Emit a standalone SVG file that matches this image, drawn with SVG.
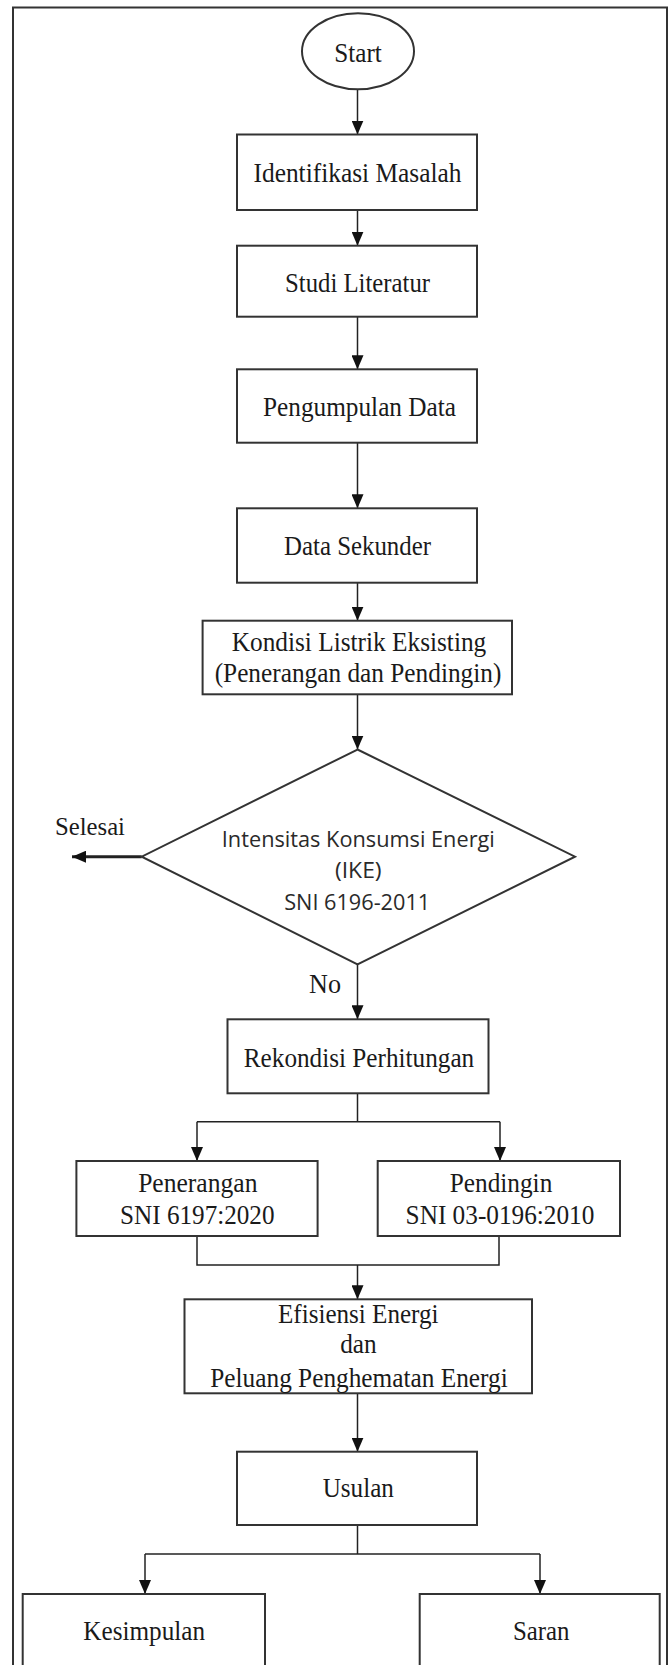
<svg xmlns="http://www.w3.org/2000/svg" width="672" height="1665" viewBox="0 0 672 1665">
<style>
.bg{fill:#ffffff}
.frame{fill:none;stroke:#333;stroke-width:2}
.box{fill:#fff;stroke:#333;stroke-width:2}
.t{font-family:"Liberation Serif","Times New Roman",serif;font-size:28px;fill:#1a1a1a;text-anchor:middle}
.s{font-family:"Open Sans","Liberation Sans",sans-serif;font-size:21px;fill:#2a2a2a;text-anchor:middle}
.c{fill:none;stroke:#222;stroke-width:1.5}
.thick{fill:none;stroke:#222;stroke-width:3}
</style>
<defs>
<marker id="ah" markerUnits="userSpaceOnUse" markerWidth="14" markerHeight="12" refX="14" refY="6" orient="auto">
<path d="M0,0 L14,6 L0,12 z" fill="#111"/>
</marker>
</defs>
<rect class="bg" x="0" y="0" width="672" height="1665"/>
<rect class="frame" x="13" y="7.5" width="654" height="1700"/>

<g id="connectors">
<line class="c" x1="357.5" y1="89.3" x2="357.5" y2="134.5" marker-end="url(#ah)"/>
<line class="c" x1="357.5" y1="210" x2="357.5" y2="245.7" marker-end="url(#ah)"/>
<line class="c" x1="357.5" y1="316.7" x2="357.5" y2="369.3" marker-end="url(#ah)"/>
<line class="c" x1="357.5" y1="442.7" x2="357.5" y2="508.3" marker-end="url(#ah)"/>
<line class="c" x1="357.5" y1="582.7" x2="357.5" y2="620.7" marker-end="url(#ah)"/>
<line class="c" x1="357.5" y1="694.3" x2="357.5" y2="749.5" marker-end="url(#ah)"/>
<line class="thick" x1="141.7" y1="856.7" x2="72" y2="856.7" marker-end="url(#ah)"/>
<line class="c" x1="357.5" y1="964.3" x2="357.5" y2="1019.3" marker-end="url(#ah)"/>
<polyline class="c" points="357.5,1093.3 357.5,1121.7"/>
<polyline class="c" points="197,1121.7 500,1121.7"/>
<line class="c" x1="197" y1="1121.7" x2="197" y2="1161" marker-end="url(#ah)"/>
<line class="c" x1="500" y1="1121.7" x2="500" y2="1161" marker-end="url(#ah)"/>
<polyline class="c" points="197,1236 197,1265 499,1265 499,1236"/>
<line class="c" x1="357.5" y1="1265" x2="357.5" y2="1299.3" marker-end="url(#ah)"/>
<line class="c" x1="357.5" y1="1393.3" x2="357.5" y2="1451.7" marker-end="url(#ah)"/>
<polyline class="c" points="357.5,1525 357.5,1554"/>
<polyline class="c" points="145,1554 540,1554"/>
<line class="c" x1="145" y1="1554" x2="145" y2="1594" marker-end="url(#ah)"/>
<line class="c" x1="540" y1="1554" x2="540" y2="1594" marker-end="url(#ah)"/>
</g>

<g id="start">
<ellipse class="box" cx="358" cy="51.3" rx="56" ry="38"/>
<text class="t" x="358" y="62" textLength="47.5" lengthAdjust="spacingAndGlyphs">Start</text>
</g>
<g id="identifikasi">
<rect class="box" x="237" y="134.5" width="240" height="75.5"/>
<text class="t" x="357.5" y="182" textLength="208" lengthAdjust="spacingAndGlyphs">Identifikasi Masalah</text>
</g>
<g id="studi">
<rect class="box" x="237" y="245.7" width="240" height="71"/>
<text class="t" x="357.5" y="291.5" textLength="145" lengthAdjust="spacingAndGlyphs">Studi Literatur</text>
</g>
<g id="pengumpulan">
<rect class="box" x="237" y="369.3" width="240" height="73.4"/>
<text class="t" x="359.5" y="416" textLength="193" lengthAdjust="spacingAndGlyphs">Pengumpulan Data</text>
</g>
<g id="sekunder">
<rect class="box" x="237" y="508.3" width="240" height="74.4"/>
<text class="t" x="357.5" y="555" textLength="147" lengthAdjust="spacingAndGlyphs">Data Sekunder</text>
</g>
<g id="kondisi">
<rect class="box" x="202.6" y="620.7" width="309.4" height="73.6"/>
<text class="t" x="359" y="650.7" textLength="254.5" lengthAdjust="spacingAndGlyphs">Kondisi Listrik Eksisting</text>
<text class="t" x="358" y="681.7" textLength="286.7" lengthAdjust="spacingAndGlyphs">(Penerangan dan Pendingin)</text>
</g>
<g id="ike">
<polygon class="box" points="357.5,749.5 575,856.7 357.5,964.3 141.7,856.7"/>
<text class="s" x="358.3" y="846.5" textLength="273" lengthAdjust="spacingAndGlyphs">Intensitas Konsumsi Energi</text>
<text class="s" x="358.3" y="877.5" textLength="46.7" lengthAdjust="spacingAndGlyphs">(IKE)</text>
<text class="s" x="357.2" y="910" textLength="146" lengthAdjust="spacingAndGlyphs">SNI 6196-2011</text>
</g>
<g id="selesai">
<text class="t" x="90" y="835" textLength="70" lengthAdjust="spacingAndGlyphs" style="font-size:25px">Selesai</text>
</g>
<g id="no-label">
<text class="t" x="325" y="993" textLength="32" lengthAdjust="spacingAndGlyphs">No</text>
</g>
<g id="rekondisi">
<rect class="box" x="227.5" y="1019.3" width="261" height="74"/>
<text class="t" x="359" y="1066.7" textLength="230.4" lengthAdjust="spacingAndGlyphs">Rekondisi Perhitungan</text>
</g>
<g id="penerangan">
<rect class="box" x="76.4" y="1161" width="241.2" height="75"/>
<text class="t" x="197.8" y="1191.5" textLength="119.3" lengthAdjust="spacingAndGlyphs">Penerangan</text>
<text class="t" x="197.3" y="1224" textLength="154.5" lengthAdjust="spacingAndGlyphs">SNI 6197:2020</text>
</g>
<g id="pendingin">
<rect class="box" x="377.7" y="1161" width="242.3" height="75"/>
<text class="t" x="501" y="1191.5" textLength="102.6" lengthAdjust="spacingAndGlyphs">Pendingin</text>
<text class="t" x="500" y="1224" textLength="188.8" lengthAdjust="spacingAndGlyphs">SNI 03-0196:2010</text>
</g>
<g id="efisiensi">
<rect class="box" x="184.5" y="1299.3" width="347.5" height="94"/>
<text class="t" x="358.3" y="1323.3" textLength="160.5" lengthAdjust="spacingAndGlyphs">Efisiensi Energi</text>
<text class="t" x="358.4" y="1353.3" textLength="36.5" lengthAdjust="spacingAndGlyphs">dan</text>
<text class="t" x="359" y="1386.7" textLength="297.4" lengthAdjust="spacingAndGlyphs">Peluang Penghematan Energi</text>
</g>
<g id="usulan">
<rect class="box" x="237" y="1451.7" width="240" height="73.3"/>
<text class="t" x="358.3" y="1496.7" textLength="71.3" lengthAdjust="spacingAndGlyphs">Usulan</text>
</g>
<g id="kesimpulan">
<rect class="box" x="22.7" y="1594" width="242.3" height="100"/>
<text class="t" x="144.2" y="1639.5" textLength="121.7" lengthAdjust="spacingAndGlyphs">Kesimpulan</text>
</g>
<g id="saran">
<rect class="box" x="419.7" y="1594" width="240" height="100"/>
<text class="t" x="541.2" y="1640" textLength="56.6" lengthAdjust="spacingAndGlyphs">Saran</text>
</g>
</svg>
